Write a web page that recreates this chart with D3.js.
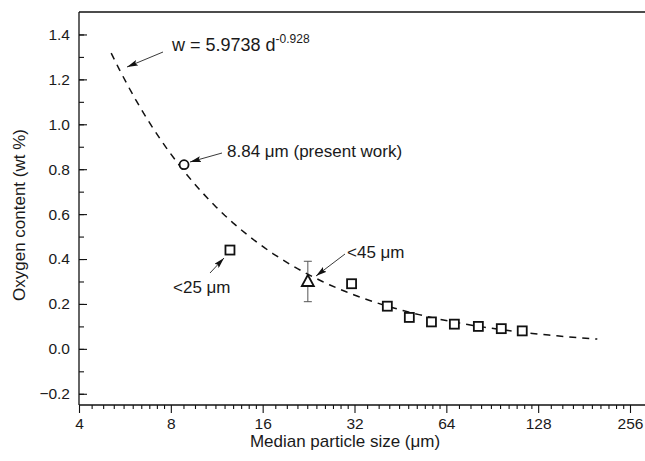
<!DOCTYPE html>
<html>
<head>
<meta charset="utf-8">
<script src="https://cdn.jsdelivr.net/npm/d3@7"></script>
<style>
  html, body { margin: 0; padding: 0; background: #fff; }
  svg { display: block; font-family: Arial, "Liberation Sans", sans-serif; }
  text { fill: #1a1a1a; }
</style>
</head>
<body>
<svg id="chart" width="645" height="461"></svg>
<script>
// Oxygen content vs. median particle size (log2 size axis)
const xTicks = [4, 8, 16, 32, 64, 128, 256];
const yTicks = [-0.2, 0.0, 0.2, 0.4, 0.6, 0.8, 1.0, 1.2, 1.4];

// literature powders (squares)
const sizes = [12.5, 31.3, 41.0, 48.4, 57.2, 68.0, 81.5, 96.9, 113.5];
const oxygen = [0.44, 0.29, 0.19, 0.14, 0.12, 0.11, 0.10, 0.09, 0.08];

// present work (circle)
const presentSize = [8.84];
const presentOxygen = [0.82];

// <45 µm powder (triangle) with error bar
const sieveSize = [22.5];
const sieveOxygen = [0.30];
const sieveLow = [0.21];
const sieveHigh = [0.39];

// power-law fit w = a * d^b
const fitA = 5.9738;
const fitB = -0.928;
const fitRange = [5.1, 200];

const svg = d3.select("#chart");
const plotL = 79, plotR = 645, plotT = 12, plotB = 405;

const x = d3.scaleLog().base(2).domain([4, 256]).range([plotL, 630]);
const y = d3.scaleLinear().domain([-0.25, 1.5]).range([plotB, plotT]);

// arrow marker
svg.append("defs").append("marker")
  .attr("id", "arrow")
  .attr("viewBox", "0 0 11 6")
  .attr("refX", 11).attr("refY", 3)
  .attr("markerWidth", 11).attr("markerHeight", 6)
  .attr("markerUnits", "userSpaceOnUse")
  .attr("orient", "auto")
  .append("path").attr("d", "M0,0 L11,3 L0,6 L2,3 Z").attr("fill", "#111");

// top border of the frame
svg.append("line").attr("x1", plotL).attr("x2", plotR).attr("y1", plotT).attr("y2", plotT)
  .attr("stroke", "#111").attr("stroke-width", 1.4);

// minor x ticks (linear steps within each octave)
const xMinor = [];
for (let i = 0; i < xTicks.length - 1; i++) {
  const a = xTicks[i], b = xTicks[i + 1];
  for (let k = 1; k < 10; k++) xMinor.push(a + (b - a) * k / 10);
}
const yMinor = d3.range(-0.2, 1.45, 0.1).map(v => +v.toFixed(2));

const gx = svg.append("g").attr("transform", `translate(0,${plotB})`);
gx.append("g").call(d3.axisBottom(x).tickValues(xMinor).tickSize(4).tickFormat(""))
  .call(g => g.select(".domain").remove());
gx.append("g").call(d3.axisBottom(x).tickValues(xTicks).tickSize(8).tickPadding(5)
  .tickFormat(d3.format("d")))
  .call(g => g.select(".domain").remove());
gx.append("line").attr("x1", plotL).attr("x2", plotR).attr("stroke", "#111").attr("stroke-width", 1.3);

const gy = svg.append("g").attr("transform", `translate(${plotL},0)`);
gy.append("g").call(d3.axisLeft(y).tickValues(yMinor).tickSize(-5).tickFormat(""))
  .call(g => g.select(".domain").remove());
gy.append("g").call(d3.axisLeft(y).tickValues(yTicks).tickSize(-8).tickPadding(9)
  .tickFormat(d3.format(".1f")))
  .call(g => g.select(".domain").remove());
gy.append("line").attr("y1", plotT).attr("y2", plotB).attr("stroke", "#111").attr("stroke-width", 1.3);

svg.selectAll(".tick line").attr("stroke", "#111").attr("stroke-width", 1.1);
svg.selectAll(".tick text").attr("font-size", 15.5).attr("fill", "#1a1a1a")
  .attr("font-family", "Arial, 'Liberation Sans', sans-serif");

// axis titles
svg.append("text").attr("x", 345).attr("y", 447).attr("text-anchor", "middle")
  .attr("font-size", 17).text("Median particle size (μm)");
svg.append("text").attr("transform", "translate(25,215) rotate(-90)")
  .attr("text-anchor", "middle").attr("font-size", 17).text("Oxygen content (wt %)");

// fitted curve
const fitPts = d3.range(0, 61).map(i => {
  const d = fitRange[0] * Math.pow(fitRange[1] / fitRange[0], i / 60);
  return [d, fitA * Math.pow(d, fitB)];
});
svg.append("path").datum(fitPts)
  .attr("d", d3.line().x(p => x(p[0])).y(p => y(p[1])))
  .attr("fill", "none").attr("stroke", "#111").attr("stroke-width", 1.5)
  .attr("stroke-dasharray", "7,6");

// error bar
const ebX = x(sieveSize[0]);
const eb = svg.append("g").attr("stroke", "#555").attr("stroke-width", 1);
eb.append("line").attr("x1", ebX).attr("x2", ebX).attr("y1", y(sieveHigh[0])).attr("y2", y(sieveLow[0]));
eb.append("line").attr("x1", ebX - 4).attr("x2", ebX + 4).attr("y1", y(sieveHigh[0])).attr("y2", y(sieveHigh[0]));
eb.append("line").attr("x1", ebX - 4).attr("x2", ebX + 4).attr("y1", y(sieveLow[0])).attr("y2", y(sieveLow[0]));

// squares
svg.selectAll("rect.pt").data(sizes.map((s, i) => [s, oxygen[i]])).enter()
  .append("rect").attr("class", "pt")
  .attr("x", d => x(d[0]) - 4.5).attr("y", d => y(d[1]) - 4.5)
  .attr("width", 9).attr("height", 9)
  .attr("fill", "#fff").attr("stroke", "#111").attr("stroke-width", 1.8);

// circle
svg.append("circle").attr("cx", x(presentSize[0])).attr("cy", y(presentOxygen[0]))
  .attr("r", 4.5).attr("fill", "#fff").attr("stroke", "#111").attr("stroke-width", 1.8);

// triangle
const tx = x(sieveSize[0]), ty = y(sieveOxygen[0]);
svg.append("path")
  .attr("d", `M${tx},${ty - 6.5} L${tx + 6},${ty + 4.5} L${tx - 6},${ty + 4.5} Z`)
  .attr("fill", "#fff").attr("stroke", "#111").attr("stroke-width", 1.8);

// annotations
function arrow(x1, y1, x2, y2) {
  svg.append("line").attr("x1", x1).attr("y1", y1).attr("x2", x2).attr("y2", y2)
    .attr("stroke", "#222").attr("stroke-width", 0.9).attr("marker-end", "url(#arrow)");
}

const eq = svg.append("text").attr("x", 172).attr("y", 51).attr("font-size", 18);
eq.append("tspan").text("w = 5.9738 d");
eq.append("tspan").attr("dy", -8).attr("font-size", 12).text("-0.928");
arrow(163, 52, 127, 67);

svg.append("text").attr("x", 227).attr("y", 157).attr("font-size", 17).text("8.84 μm (present work)");
arrow(222, 153, 190, 162);

svg.append("text").attr("x", 173).attr("y", 293).attr("font-size", 17).text("<25 μm");
arrow(210, 273, 224, 258);

svg.append("text").attr("x", 347).attr("y", 258).attr("font-size", 17).text("<45 μm");
arrow(345, 254, 316, 276);
</script>
</body>
</html>
